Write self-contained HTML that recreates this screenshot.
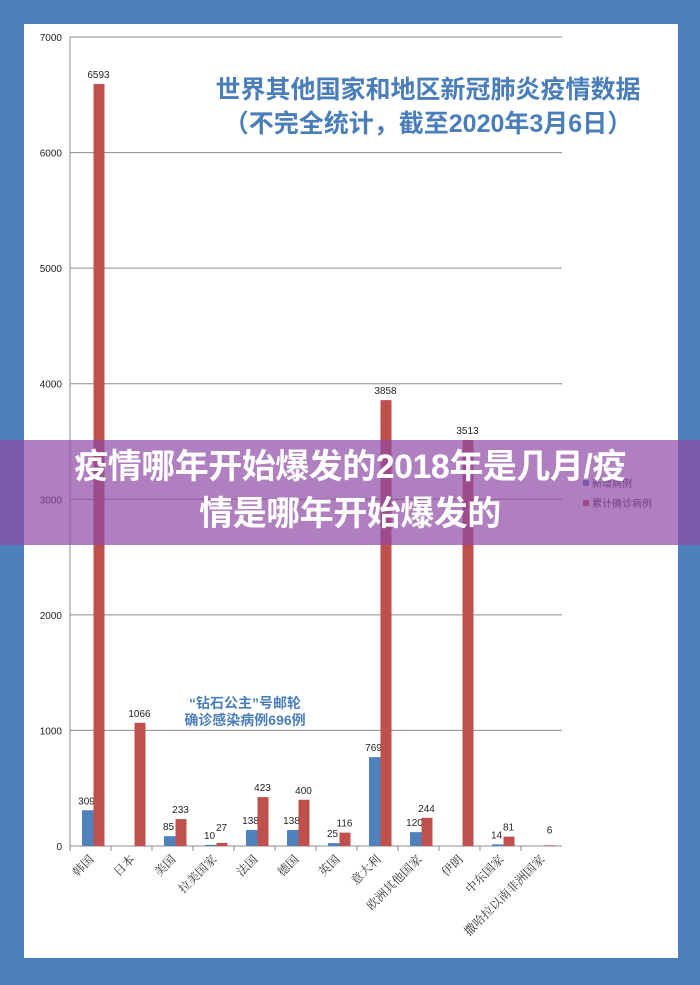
<!DOCTYPE html>
<html><head><meta charset="utf-8"><style>
body{margin:0;width:700px;height:985px;background:#4f7fbb;position:relative;overflow:hidden;font-family:"Liberation Sans","Noto Sans CJK SC",sans-serif}
#panel{position:absolute;left:24px;top:24px;width:654px;height:934px;background:#fff}
svg{position:absolute;left:0;top:0}
#banner{position:absolute;left:0;top:440px;width:700px;height:105px;background:rgba(143,72,165,0.7);color:#fff;font-weight:bold;font-size:34px;text-align:center;line-height:47px;padding-top:4px;box-sizing:border-box;letter-spacing:-0.5px}
</style></head><body>
<div id="panel"></div>
<svg id="chart" width="700" height="985"></svg>
<div id="banner">疫情哪年开始爆发的2018年是几月/疫<br>情是哪年开始爆发的</div>
<script>
const categories=["韩国","日本","美国","拉美国家","法国","德国","英国","意大利","欧洲其他国家","伊朗","中东国家","撒哈拉以南非洲国家"];
const newCases=[309,null,85,10,138,138,25,769,120,null,14,null];
const totalCases=[6593,1066,233,27,423,400,116,3858,244,3513,81,6];
const yTicks=[0,1000,2000,3000,4000,5000,6000,7000];
const svg=document.getElementById('chart');
const NS='http://www.w3.org/2000/svg';
const x0=70,step=41,y0=846,yTop=37,yMax=7000;
const Y=v=>y0-(y0-yTop)*v/yMax;
const C=i=>x0+step*(i+0.5);
function mk(t,a,txt){const e=document.createElementNS(NS,t);for(const k in a)e.setAttribute(k,a[k]);if(txt!==undefined)e.textContent=txt;svg.appendChild(e);return e;}
yTicks.forEach(v=>{
 const g=mk('line',{x1:x0,x2:562,y1:Y(v),y2:Y(v),stroke:'#8c8c8c','stroke-width':1});
 
 
 const t=mk('text',{x:62,y:Y(v)+4,'text-anchor':'end','font-size':10,fill:'#222'},v);
 
 
});
const ax=mk('line',{x1:x0,x2:x0,y1:yTop,y2:y0,stroke:'#8c8c8c'});


const xa=mk('line',{x1:x0,x2:x0+step*12,y1:y0,y2:y0,stroke:'#8c8c8c'});


categories.forEach((c,i)=>{
 const tk=mk('line',{x1:x0+step*i,x2:x0+step*i,y1:y0,y2:y0+5,stroke:'#8c8c8c'});
 
 
 const cx=C(i);
 const lb=mk('text',{x:cx+4,y:y0+14,'text-anchor':'end','font-size':12,fill:'#333','font-family':'"Noto Serif CJK SC",serif',transform:`rotate(-45 ${cx+4} ${y0+14})`},c);
 
 
 if(newCases[i]!==null){
  const v=newCases[i];
  const b=mk('rect',{x:cx-8.5,y:Y(v),width:11.5,height:y0-Y(v),fill:'#4f81bd'});
  
  
  const t=mk('text',{x:cx-4,y:Y(v)-6,'text-anchor':'middle','font-size':10,fill:'#222'},v);
  
  
 }
 const v=totalCases[i];
 const b=mk('rect',{x:cx+3,y:Y(v),width:11,height:y0-Y(v),fill:'#c0504d'});
 
 
 const t=mk('text',{x:cx+8,y:Y(v)-6-(v<60?6:0),'text-anchor':'middle','font-size':10,fill:'#222'},v);
 
 
});
const title1=mk('text',{x:428,y:98,'text-anchor':'middle','font-size':25,'font-weight':'bold',fill:'#4a7ebb'},'世界其他国家和地区新冠肺炎疫情数据');


const title2=mk('text',{x:428,y:132,'text-anchor':'middle','font-size':25,'font-weight':'bold',fill:'#4a7ebb'},'（不完全统计，截至2020年3月6日）');


const n1=mk('text',{x:245,y:708,'text-anchor':'middle','font-size':14,'font-weight':'bold',fill:'#4a7ebb'},'“钻石公主”号邮轮');


const n2=mk('text',{x:245,y:725,'text-anchor':'middle','font-size':14,'font-weight':'bold',fill:'#4a7ebb'},'确诊感染病例696例');


[['新增病例','#4f81bd',485],['累计确诊病例','#c0504d',505]].forEach(([t,c,y])=>{
 const s=mk('rect',{x:583,y:y-5,width:6,height:6,fill:c});
 
 
 const tx=mk('text',{x:592,y:y+2,'font-size':10,fill:'#333'},t);
 
 
});
</script>
</body></html>
